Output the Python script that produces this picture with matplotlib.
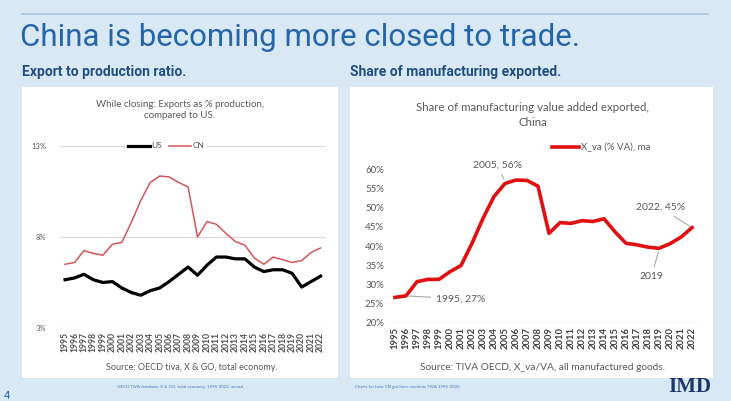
import matplotlib.pyplot as plt
from matplotlib.patches import Rectangle
from matplotlib.lines import Line2D

# Data
years = list(range(1995, 2023))
year_labels = [str(y) for y in years]

cn_export_ratio = [6.5, 6.6, 7.25, 7.1, 7.0, 7.6, 7.7, 8.8, 10.0, 11.0, 11.35, 11.3,
                   11.0, 10.75, 8.0, 8.85, 8.7, 8.2, 7.75, 7.55, 6.85, 6.5, 6.9, 6.75,
                   6.6, 6.7, 7.15, 7.4]
us_export_ratio = [5.65, 5.75, 5.95, 5.65, 5.5, 5.55, 5.2, 4.95, 4.8, 5.05, 5.2, 5.55,
                   5.95, 6.35, 5.9, 6.45, 6.9, 6.9, 6.8, 6.8, 6.35, 6.1, 6.2, 6.2,
                   6.0, 5.25, 5.55, 5.85]
left_yticks = [3, 8, 13]

cn_manuf_share = [26.6, 27.0, 30.7, 31.3, 31.3, 33.3, 34.9, 40.7, 47.2, 52.9, 56.3, 57.2,
                  57.1, 55.6, 43.3, 46.1, 45.9, 46.6, 46.4, 47.1, 43.7, 40.7, 40.3, 39.7,
                  39.4, 40.6, 42.3, 44.8]
right_yticks = [20, 25, 30, 35, 40, 45, 50, 55, 60]

W, H = 731, 401
bg = '#d9e8f5'
blue = '#2465a8'
dark_blue = '#1f4f80'
grey_text = '#595959'


def fx(px):
    return px / W


def fy(py):
    return 1 - py / H


fig = plt.figure(figsize=(W / 100, H / 100), dpi=100, facecolor=bg)

# header
fig.add_artist(Line2D([fx(22), fx(708)], [fy(14), fy(14)], color='#a8c3df', lw=1.2))
fig.text(fx(20), fy(38), 'China is becoming more closed to trade.', family='Roboto',
         fontsize=22.5, color=blue, va='center', ha='left')
fig.text(fx(22), fy(72), 'Export to production ratio.', family='Roboto', fontweight='bold',
         fontsize=10, color=dark_blue, va='center')
fig.text(fx(350), fy(72), 'Share of manufacturing exported.', family='Roboto',
         fontweight='bold', fontsize=10, color=dark_blue, va='center')

# white panels, kept behind the axes
fig.add_artist(Rectangle((fx(22), fy(378)), fx(338 - 22), (378 - 87) / H,
                         transform=fig.transFigure, facecolor='white', edgecolor='none',
                         zorder=-5))
fig.add_artist(Rectangle((fx(350), fy(378)), fx(713 - 350), (378 - 87) / H,
                         transform=fig.transFigure, facecolor='white', edgecolor='none',
                         zorder=-5))

# ---- left chart ----
ax1 = fig.add_axes([fx(60.3), fy(328), fx(265), 182 / H])
ax1.set_facecolor('none')
for y in left_yticks:
    ax1.axhline(y, color='#d9d9d9', lw=0.8, zorder=0)
ax1.plot(years, us_export_ratio, color='black', lw=2.3, label='US')
ax1.plot(years, cn_export_ratio, color='#d4555b', lw=1.1, label='CN')
ax1.set_xlim(1994.5, 2022.5)
ax1.set_ylim(3, 13)
ax1.set_yticks(left_yticks)
ax1.set_yticklabels([f'{v}%' for v in left_yticks], family='Lato', fontsize=5.5,
                    color=grey_text)
ax1.set_xticks(years)
ax1.set_xticklabels(year_labels, rotation=90, family='Lato', fontsize=6.2,
                    fontweight='bold', color='#505050')
ax1.tick_params(length=0, pad=3)
ax1.tick_params(axis='y', pad=10)
for s in ax1.spines.values():
    s.set_visible(False)
leg1 = ax1.legend(loc='center', bbox_to_anchor=(0.40, 1.0), ncol=2, frameon=True,
                  framealpha=1, edgecolor='white', handlelength=2.6,
                  columnspacing=0.8, handletextpad=0.2, borderpad=0.2,
                  prop={'family': 'Lato', 'size': 6})
for t in leg1.get_texts():
    t.set_color(grey_text)
fig.text(fx(180), fy(110), 'While closing: Exports as % production,\ncompared to US.',
         family='Lato', fontsize=7, color=grey_text, ha='center', va='center',
         linespacing=1.35)
fig.text(fx(192), fy(367), 'Source: OECD tiva, X & GO, total economy.', family='Lato',
         fontsize=6.5, color=grey_text, ha='center', va='center')

# ---- right chart ----
ax2 = fig.add_axes([fx(389.5), fy(322.7), fx(308), 153.4 / H])
ax2.set_facecolor('none')
ax2.axhline(20, color='#d9d9d9', lw=1.0, zorder=0)
ax2.plot(years, cn_manuf_share, color='#e01010', lw=2.6, label='X_va (% VA), ma')
ax2.set_xlim(1994.5, 2022.5)
ax2.set_ylim(20, 60)
ax2.set_yticks(right_yticks)
ax2.set_yticklabels([f'{v}%' for v in right_yticks], family='Lato', fontsize=7,
                    color=grey_text)
ax2.set_xticks(years)
ax2.set_xticklabels(year_labels, rotation=90, family='Lato', fontsize=6.8,
                    fontweight='bold', color='#404040')
ax2.tick_params(length=0, pad=3)
ax2.tick_params(axis='y', pad=4)
for s in ax2.spines.values():
    s.set_visible(False)
leg2 = ax2.legend(loc='center left', bbox_to_anchor=(0.5, 1.14), frameon=False,
                  handlelength=2.8, handletextpad=0.2,
                  prop={'family': 'Lato', 'size': 7})
for t in leg2.get_texts():
    t.set_color(grey_text)

ann = dict(family='Lato', fontsize=7.5, color=grey_text)
leader = dict(arrowstyle='-', color='#a6a6a6', lw=0.8)
ax2.annotate('1995, 27%', xy=(1996, cn_manuf_share[1]), xytext=(2001.0, 26.2),
             ha='center', va='center', arrowprops=leader, **ann)
ax2.annotate('2005, 56%', xy=(2005, cn_manuf_share[10] + 0.5), xytext=(2004.3, 61.2),
             ha='center', va='center', arrowprops=leader, **ann)
ax2.annotate('2022, 45%', xy=(2022, cn_manuf_share[27]), xytext=(2019.1, 50.0),
             ha='center', va='center', arrowprops=leader, **ann)
ax2.annotate('2019', xy=(2019, cn_manuf_share[24] - 0.4), xytext=(2018.3, 32.0),
             ha='center', va='center', arrowprops=leader, **ann)

fig.text(fx(533), fy(115), 'Share of manufacturing value added exported,\nChina',
         family='Lato', fontsize=8.3, color=grey_text, ha='center', va='center',
         linespacing=1.35)
fig.text(fx(543), fy(367), 'Source: TIVA OECD, X_va/VA, all manufactured goods.',
         family='Lato', fontsize=7.3, color=grey_text, ha='center', va='center')

# footer
fig.text(fx(180), fy(387), 'OECD TiVA database, X & GO, total economy, 1995-2022, annual',
         family='Lato', fontsize=3.2, color='#4a7ab5', ha='center', va='center')
fig.text(fx(355), fy(387), 'Charts for how CN got here: sections TiVA 1995-2020',
         family='Lato', fontsize=3.2, color='#4a7ab5', ha='left', va='center')
fig.text(fx(690), fy(387), 'IMD', family='Liberation Serif', fontweight='bold',
         fontsize=15, color='#1b3768', ha='center', va='center')
fig.text(fx(4), fy(396), '4', family='Roboto', fontsize=8, color=blue, ha='left',
         va='center')

fig.savefig('out.png', dpi=100, facecolor=bg)
